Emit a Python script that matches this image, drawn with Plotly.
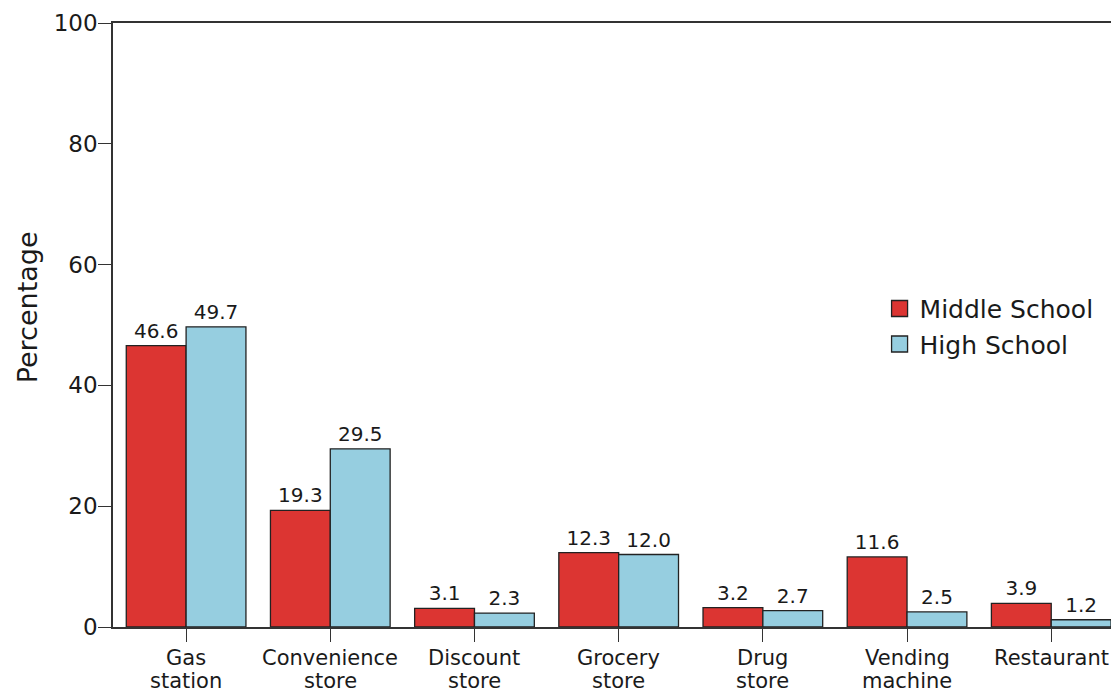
import plotly.graph_objects as go

CATEGORIES = ["Gas<br>station", "Convenience<br>store", "Discount<br>store", "Grocery<br>store",
              "Drug<br>store", "Vending<br>machine", "Restaurant"]
MIDDLE_SCHOOL = [46.6, 19.3, 3.1, 12.3, 3.2, 11.6, 3.9]
HIGH_SCHOOL = [49.7, 29.5, 2.3, 12.0, 2.7, 2.5, 1.2]
Y_TICKS = [0, 20, 40, 60, 80, 100]

COLORS = {
    "red": "#DC3532",
    "blue": "#96CEE0",
    "edge": "#222222",
    "axis": "#333333",
    "text": "#1a1a1a",
}
FONT = "DejaVu Sans, sans-serif"

fig = go.Figure()
for name, vals, col in [("Middle School", MIDDLE_SCHOOL, COLORS["red"]),
                        ("High School", HIGH_SCHOOL, COLORS["blue"])]:
    fig.add_trace(go.Bar(
        x=list(range(len(CATEGORIES))),
        y=vals,
        name=name,
        showlegend=False,
        marker=dict(color=col, line=dict(color=COLORS["edge"], width=1.3)),
        text=[f"{v:.1f}" for v in vals],
        textposition="outside",
        textfont=dict(size=20, color=COLORS["text"], family=FONT),
        cliponaxis=False,
    ))
    # legend-only entry, so the swatch can be bigger
    fig.add_trace(go.Scatter(
        x=[None], y=[None], mode="markers", name=name,
        marker=dict(symbol="square", size=21, color=col,
                    line=dict(color=COLORS["edge"], width=1.3)),
    ))

# category labels, one line per annotation to keep the line spacing tight
for i, label in enumerate(CATEGORIES):
    for j, line in enumerate(label.split("<br>")):
        fig.add_annotation(
            text=line, x=i, xref="x", y=0, yref="paper",
            yanchor="middle", yshift=-31 - 23 * j, showarrow=False,
            font=dict(size=21, color=COLORS["text"]),
        )

fig.add_annotation(
    text="Percentage", textangle=-90,
    xref="paper", yref="paper", x=-0.085, y=0.53,
    xanchor="center", yanchor="middle", showarrow=False,
    font=dict(size=27, color=COLORS["text"]),
)

# page body has an 8px margin, so the margins are shifted to compensate
fig.update_layout(
    width=1119, height=692,
    barmode="group",
    bargap=0.17,
    bargroupgap=0,
    paper_bgcolor="white",
    plot_bgcolor="white",
    font=dict(family=FONT, color=COLORS["text"]),
    margin=dict(l=105, r=8, t=15, b=73, autoexpand=False),
    showlegend=True,
    legend=dict(
        x=0.762, y=0.565, xanchor="left", yanchor="top",
        font=dict(size=25, color=COLORS["text"]),
        bgcolor="rgba(0,0,0,0)",
        tracegroupgap=0,
    ),
    xaxis=dict(
        range=[-0.507, 6.47],
        tickmode="array",
        tickvals=list(range(len(CATEGORIES))),
        ticktext=[""] * len(CATEGORIES),
        ticks="outside", ticklen=13, tickwidth=1.3, tickcolor=COLORS["axis"],
        showline=True, linecolor=COLORS["axis"], linewidth=1.5, mirror=True,
        showgrid=False, zeroline=False, automargin=False,
    ),
    yaxis=dict(
        range=[0, 100],
        tickvals=Y_TICKS,
        ticks="outside", ticklen=13, tickwidth=1.3, tickcolor=COLORS["axis"],
        showline=True, linecolor=COLORS["axis"], linewidth=1.5,
        showgrid=False, zeroline=False, automargin=False,
        ticklabelstandoff=-4,
        tickfont=dict(size=23, color=COLORS["text"]),
    ),
)

fig.write_html("out.html")
